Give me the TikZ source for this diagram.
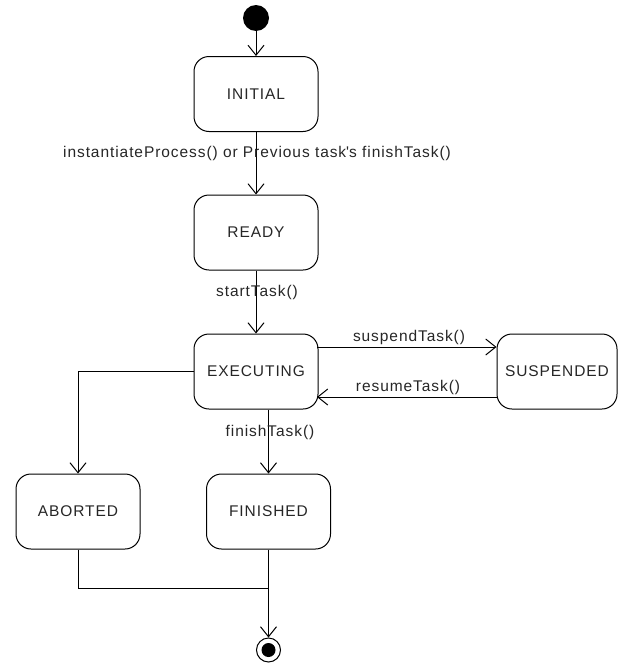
\documentclass[tikz,border=0pt]{standalone}
\usepackage{fontspec}
\setmainfont{Liberation Sans}[LetterSpace=6]
\usetikzlibrary{arrows.meta}
\begin{document}
\begin{tikzpicture}[x=1pt,y=-1pt,
  state/.style={draw, line width=1pt, rounded corners=15pt, minimum width=124pt, minimum height=75pt, inner sep=0pt, font=\fontsize{15.5}{17}\selectfont, text=black!85},
  lbl/.style={inner sep=0pt, font=\fontsize{15.5}{17}\selectfont, text=black!85},
  conn/.style={line width=1pt},
  arr/.style={conn, -{Straight Barb[length=10pt, width=16pt, line width=1pt]}}]
\useasboundingbox (0,0) rectangle (618,664);
\node[circle, fill=black, minimum size=26pt, inner sep=0pt] (start) at (256,18) {};
\node[state] (initial) at (256,94) {INITIAL};
\node[state] (ready) at (256,232.5) {READY};
\node[state] (exec) at (256,371.5) {EXECUTING};
\node[state, minimum width=120pt] (susp) at (557,371.5) {SUSPENDED};
\node[state] (abort) at (78,511.5) {ABORTED};
\node[state] (fin) at (268.5,511.5) {FINISHED};
\node[circle, draw, line width=1pt, minimum size=24pt, inner sep=0pt] (final) at (268.5,650) {};
\fill (final.center) circle (7pt);
\coordinate (join) at (268.5,588);
\coordinate (suspA) at (317,347);
\coordinate (resA) at (317,397);

\draw[arr] (start) -- (initial);
\draw[arr] (initial) -- (ready);
\draw[arr] (ready) -- (exec);
\draw[arr] (suspA) -- (suspA -| susp.west);
\draw[arr] (resA -| susp.west) -- (resA);
\draw[arr] (exec.west) -| (abort.north);
\draw[arr] (fin.north |- exec.south) -- (fin.north);
\draw[conn] (abort.south) |- (join);
\draw[arr] (fin.south) -- (final.north);

\node[lbl] (l1) at (257,153) {instantiateProcess() or Previous task\textquotesingle s finishTask()};
\node[lbl] (l2) at (257,292) {startTask()};
\node[lbl] (l3) at (409,337) {suspendTask()};
\node[lbl] (l4) at (408,387) {resumeTask()};
\node[lbl] (l5) at (270,432) {finishTask()};
\end{tikzpicture}
\end{document}
